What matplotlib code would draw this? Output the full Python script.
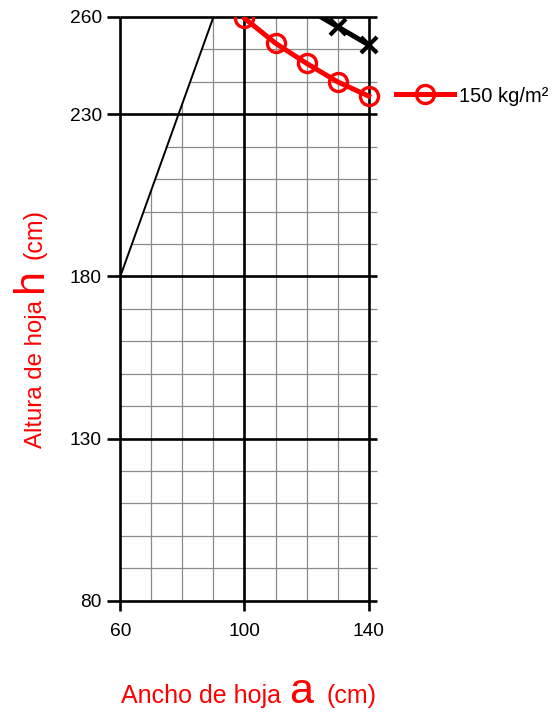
import matplotlib
matplotlib.use("Agg")
import matplotlib.pyplot as plt
from matplotlib.patches import Polygon, Rectangle

plt.rcParams['font.family'] = ['Liberation Sans', 'DejaVu Sans']

# ---- data ----
x_ticks = [60, 100, 140]
y_ticks = [80, 130, 180, 230, 260]
x_minor = [70, 80, 90, 110, 120, 130]
y_minor = [90, 100, 110, 120, 140, 150, 160, 170, 190, 200, 210, 220, 240, 250]

boundary_a = [60, 90]
boundary_h = [180, 260]

red_a = [100, 110, 120, 130, 140]
red_h = [259.6, 251.9, 245.7, 240.0, 235.6]
red_label = "150 kg/m²"

black_a = [120, 130, 140]
black_h = [262.6, 257.0, 251.4]

W, H = 553, 714
fig = plt.figure(figsize=(W / 100, H / 100), dpi=100)

def fx(px):
    return px / W

def fy(py):
    return 1 - py / H

ax_l, ax_r, ax_t, ax_b = 120.3, 368.7, 17.0, 600.7
ax = fig.add_axes([fx(ax_l), fy(ax_b), fx(ax_r - ax_l), (ax_b - ax_t) / H])
ax.set_xlim(60, 140)
ax.set_ylim(80, 260)
for s in ax.spines.values():
    s.set_visible(False)

xr = 142.7  # right extension of horizontal lines

# clip region: right of the boundary line
poly = Polygon([(60, 80), (boundary_a[0], boundary_h[0]), (boundary_a[1], boundary_h[1]),
                (xr + 1, 260), (xr + 1, 80)], closed=True, transform=ax.transData)

minor_color = '#8a8a8a'
vl = ax.vlines(x_minor, 80, 260, colors=minor_color, linewidth=0.9, zorder=1)
hl = ax.hlines(y_minor, 60, xr, colors=minor_color, linewidth=0.9, zorder=1)
for art in (vl, hl):
    art.set_clip_path(poly)
    art.set_clip_box(None)

ax.vlines(x_ticks, 80, 260, colors='black', linewidth=1.9, zorder=2, clip_on=False)
ax.hlines(y_ticks, 60, xr, colors='black', linewidth=1.9, zorder=2, clip_on=False)

ax.plot(boundary_a, boundary_h, color='black', linewidth=1.4, zorder=3)

clip_rect = Rectangle((40, 70), 120, 190, transform=ax.transData)

bl, = ax.plot(black_a, black_h, color='black', linewidth=3.6, marker='x',
              markersize=12, markeredgewidth=3.0, zorder=4)
bl.set_clip_path(clip_rect)

rl, = ax.plot(red_a, red_h, color='red', linewidth=3.6, marker='o',
              markersize=13, markeredgewidth=2.4, markerfacecolor='none',
              markeredgecolor='red', zorder=5, label=red_label)
rl.set_clip_path(clip_rect)

ax.set_xticks(x_ticks)
ax.set_yticks(y_ticks)
ax.set_xticklabels([str(v) for v in x_ticks])
ax.set_yticklabels([str(v) for v in y_ticks])
ax.tick_params(axis='x', direction='out', length=7.2, width=1.9, pad=9,
               labelsize=13.8, colors='black')
ax.tick_params(axis='y', direction='out', length=9.4, width=1.9, pad=4,
               labelsize=13.8, colors='black')

leg = ax.legend(handles=[rl], labels=[red_label], loc='center left',
                bbox_to_anchor=(fx(396), fy(96)), bbox_transform=fig.transFigure,
                frameon=False, borderpad=0, borderaxespad=0, handlelength=2.9,
                handletextpad=0.25, fontsize=14.5, numpoints=1)

# x label pieces
base_y = fy(703)
red = 'red'
fig.text(fx(121), base_y, "Ancho de hoja", fontsize=18, color=red, ha='left', va='baseline')
fig.text(fx(289), base_y, "a", fontsize=31, color=red, ha='left', va='baseline')
fig.text(fx(326), base_y, "(cm)", fontsize=18, color=red, ha='left', va='baseline')

# y label pieces (rotated, baseline at x ~ 41.7 px)
base_x = fx(41.7)
fig.text(base_x, fy(448), "Altura de hoja", fontsize=17.3, color=red, rotation=90,
         ha='left', va='baseline', rotation_mode='anchor')
fig.text(base_x, fy(292), "h", fontsize=31, color=red, rotation=90,
         ha='left', va='baseline', rotation_mode='anchor')
fig.text(base_x, fy(259), "(cm)", fontsize=18, color=red, rotation=90,
         ha='left', va='baseline', rotation_mode='anchor')

fig.savefig("out.png", dpi=100)
